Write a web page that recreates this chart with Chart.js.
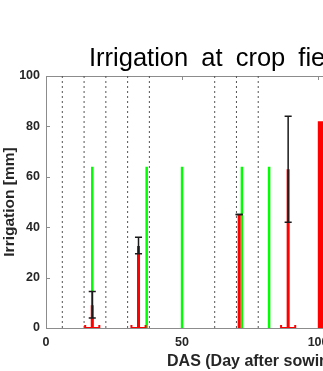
<!DOCTYPE html>
<html>
<head>
<meta charset="utf-8">
<script src="https://cdn.jsdelivr.net/npm/chart.js@4.4.1/dist/chart.umd.min.js"></script>
<style>
  html, body { margin: 0; padding: 0; overflow: hidden; background: #fff; }
  #wrap { width: 479px; height: 371px; }
</style>
</head>
<body>
<div id="wrap"><canvas id="irrChart" width="479" height="371"></canvas></div>
<script>
// growth stage markers (dotted lines), days after sowing
const stageDays = [6, 14, 22, 30, 38, 62, 70, 78];

// planned irrigation events (green)
const plannedDays = [17, 37, 50, 72, 82, 101];
const plannedDepth = [64, 64, 64, 64, 64, 64];

// applied irrigation (red) with min / max range (black)
const appliedDays = [17, 34, 71, 89];
const appliedDepth = [9, 32.5, 45, 63];
const appliedLow = [4, 29.5, 45, 42];
const appliedHigh = [14.5, 36, 45, 84];
const baseDays = [17, 34, 89];

// last applied event, drawn heavier
const lastDays = [101];
const lastDepth = [82];

const xTicks = [0, 50, 100, 150];
const yTicks = [0, 20, 40, 60, 80, 100];

const titleText = 'Irrigation at crop field';
const xTitle = 'DAS (Day after sowing)';
const yTitle = 'Irrigation [mm]';

Chart.defaults.font.family = '"Liberation Sans", Arial, sans-serif';

// vertical segments x, y0 -> y1, separated by gaps
function verticals(xs, y0s, y1s) {
    const pts = [];
    xs.forEach(function(x, i) {
        pts.push({x: x, y: y0s[i]}, {x: x, y: y1s[i]}, {x: x, y: null});
    });
    return pts;
}

function caps(xs, ys, half) {
    const pts = [];
    xs.forEach(function(x, i) {
        pts.push({x: x - half, y: ys[i]}, {x: x + half, y: ys[i]}, {x: x, y: null});
    });
    return pts;
}

function bases(xs, half, lift) {
    const pts = [];
    xs.forEach(function(x) {
        pts.push({x: x - half, y: lift}, {x: x - half, y: 0}, {x: x + half, y: 0},
                 {x: x + half, y: lift}, {x: x, y: null});
    });
    return pts;
}

const zeros = function(arr) { return arr.map(function() { return 0; }); };

const seg = function(label, data, color, width, order, dash) {
    return {
        label: label, data: data, borderColor: color, borderWidth: width,
        borderDash: dash || [], pointRadius: 0, fill: false, order: order,
        spanGaps: false, tension: 0
    };
};

const frame = {
    id: 'frame',
    beforeDatasetsDraw(chart) {
        const {ctx, chartArea: a, scales} = chart;
        ctx.save();
        ctx.strokeStyle = '#8c8c8c';
        ctx.lineWidth = 1;
        ctx.strokeRect(Math.round(a.left) + 0.5, Math.round(a.top) + 0.5,
                       Math.round(a.right - a.left), Math.round(a.bottom - a.top));
        ctx.beginPath();
        xTicks.forEach(function(v) {
            const px = Math.round(scales.x.getPixelForValue(v)) + 0.5;
            ctx.moveTo(px, a.bottom); ctx.lineTo(px, a.bottom - 4);
            ctx.moveTo(px, a.top); ctx.lineTo(px, a.top + 4);
        });
        yTicks.forEach(function(v) {
            const py = Math.round(scales.y.getPixelForValue(v)) + 0.5;
            ctx.moveTo(a.left, py); ctx.lineTo(a.left + 4, py);
        });
        ctx.stroke();
        ctx.restore();
    },
    afterDraw(chart) {
        const ctx = chart.ctx;
        ctx.save();
        ctx.font = '25.5px "Liberation Sans", Arial, sans-serif';
        ctx.fillStyle = '#000';
        ctx.textAlign = 'left';
        ctx.textBaseline = 'alphabetic';
        ctx.wordSpacing = '6px';
        ctx.fillText(titleText, chart.chartArea.left + 43, 65.5);
        ctx.restore();
    }
};

const ctx = document.getElementById('irrChart').getContext('2d');
new Chart(ctx, {
    type: 'line',
    data: {
        datasets: [
            seg('range', verticals(appliedDays, appliedLow, appliedHigh), '#1a1a1a', 1.5, 1),
            seg('range caps low', caps(appliedDays, appliedLow, 1.3), '#1a1a1a', 1.5, 1),
            seg('range caps high', caps(appliedDays, appliedHigh, 1.3), '#1a1a1a', 1.5, 1),
            seg('applied', verticals(appliedDays, zeros(appliedDays), appliedDepth), '#ff0000', 3, 2),
            seg('applied base', bases(baseDays, 2.6, 1.2), '#ff0000', 2, 2),
            seg('last', verticals(lastDays, zeros(lastDays), lastDepth), '#ff0000', 6, 2),
            seg('planned', verticals(plannedDays, zeros(plannedDays), plannedDepth), '#00ff00', 2.5, 3),
            seg('stages', verticals(stageDays, zeros(stageDays), stageDays.map(function() { return 100; })), '#555555', 1, 4, [2, 3])
        ]
    },
    options: {
        responsive: false,
        animation: false,
        events: [],
        layout: { padding: { top: 76, right: 14, left: 0, bottom: 0 } },
        plugins: {
            legend: { display: false },
            tooltip: { enabled: false },
            title: { display: false }
        },
        scales: {
            x: {
                type: 'linear',
                min: 0, max: 154,
                afterBuildTicks: function(s) { s.ticks = xTicks.map(function(v) { return {value: v}; }); },
                afterFit: function(s) { s.height = 43; },
                grid: { display: false, drawTicks: false },
                border: { display: false },
                ticks: { padding: 7, color: '#262626', font: { size: 12.5, weight: 'bold' }, maxRotation: 0 },
                title: { display: true, text: xTitle, color: '#262626', padding: 0, font: { size: 16, weight: 'bold' } }
            },
            y: {
                type: 'linear',
                min: 0, max: 100,
                afterBuildTicks: function(s) { s.ticks = yTicks.map(function(v) { return {value: v}; }); },
                afterFit: function(s) { s.width = 46; },
                grid: { display: false, drawTicks: false },
                border: { display: false },
                ticks: { padding: 6, color: '#262626', font: { size: 12.5, weight: 'bold' } },
                title: { display: true, text: yTitle, color: '#262626', padding: 0, font: { size: 15.5, weight: 'bold' } }
            }
        }
    },
    plugins: [frame]
});
</script>
</body>
</html>
